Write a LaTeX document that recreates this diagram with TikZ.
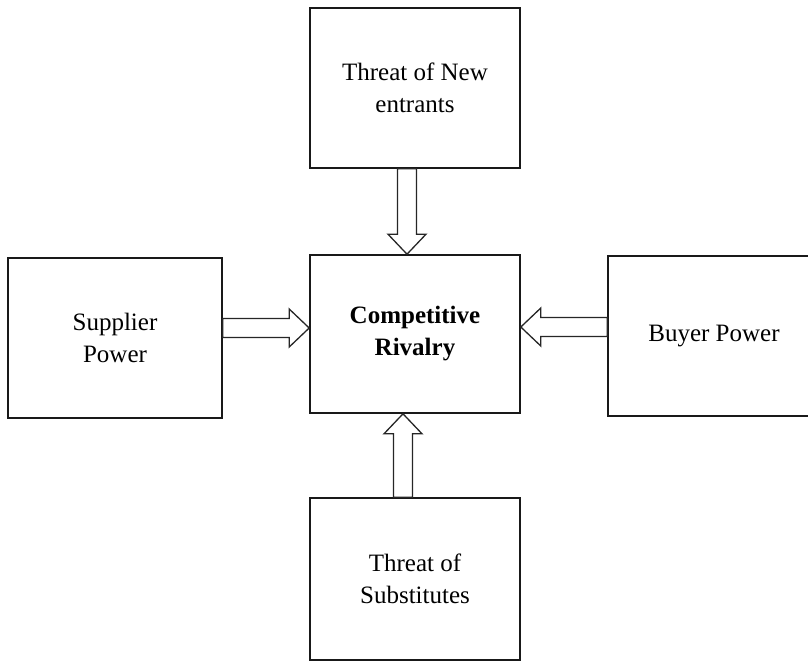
\documentclass[tikz,border=0pt]{standalone}
\usepackage{fontspec}
\setmainfont{Liberation Serif}
\usetikzlibrary{calc}

% Hollow block arrow from #1 to #2 (shaft half-width 9.5pt, head half-width 19pt, head length 20pt)
\newcommand\hollowarrow[2]{%
  \draw[blockarr] let \p1=(#1), \p2=(#2),
      \n1={veclen(\x2-\x1,\y2-\y1)},
      \n2={(\x2-\x1)/\n1}, \n3={(\y2-\y1)/\n1} in
    ({\x1-9.5pt*\n3},{\y1+9.5pt*\n2})
    -- ({\x2-20pt*\n2-9.5pt*\n3},{\y2-20pt*\n3+9.5pt*\n2})
    -- ({\x2-20pt*\n2-19pt*\n3},{\y2-20pt*\n3+19pt*\n2})
    -- (\p2)
    -- ({\x2-20pt*\n2+19pt*\n3},{\y2-20pt*\n3-19pt*\n2})
    -- ({\x2-20pt*\n2+9.5pt*\n3},{\y2-20pt*\n3-9.5pt*\n2})
    -- ({\x1+9.5pt*\n3},{\y1-9.5pt*\n2})
    -- cycle;}

\begin{document}
\begin{tikzpicture}[x=1pt,y=-1pt,
  force/.style={draw=black!90, line width=1.6pt, fill=white, align=center,
    inner sep=0pt, font=\fontsize{25}{32}\selectfont},
  blockarr/.style={draw=black!85, line width=1.3pt, fill=white, line join=miter}]
  \useasboundingbox (0,0) rectangle (808,661);
  \clip (0,0) rectangle (808,661);

  % the five forces (the buyer box runs off the right edge)
  \node[force, minimum width=210pt, minimum height=160pt] (entrants) at (415,88)
    {Threat of New\\entrants};
  \node[force, minimum width=214pt, minimum height=160pt] (supplier) at (115,338)
    {Supplier\\Power};
  \node[force, minimum width=210pt, minimum height=158pt] (rivalry) at (415,334)
    {\bfseries Competitive\\\bfseries Rivalry};
  \node[force, minimum width=260pt, minimum height=160pt] (buyer) at (738,336) {};
  \node[font=\fontsize{25}{32}\selectfont] (buyertext) at (714,336) {Buyer Power};
  \node[force, minimum width=210pt, minimum height=162pt] (subst) at (415,579)
    {Threat of\\Substitutes};

  % arrow end points on the box edges
  \coordinate (tA) at ([xshift=-8pt]entrants.south);
  \coordinate (tB) at (tA |- rivalry.north);
  \coordinate (lA) at ([yshift=10pt]supplier.east);
  \coordinate (lB) at (lA -| rivalry.west);
  \coordinate (rA) at ([yshift=9pt]buyer.west);
  \coordinate (rB) at (rA -| rivalry.east);
  \coordinate (bA) at ([xshift=-12pt]subst.north);
  \coordinate (bB) at (bA |- rivalry.south);

  \hollowarrow{tA}{tB}
  \hollowarrow{lA}{lB}
  \hollowarrow{rA}{rB}
  \hollowarrow{bA}{bB}
\end{tikzpicture}
\end{document}
